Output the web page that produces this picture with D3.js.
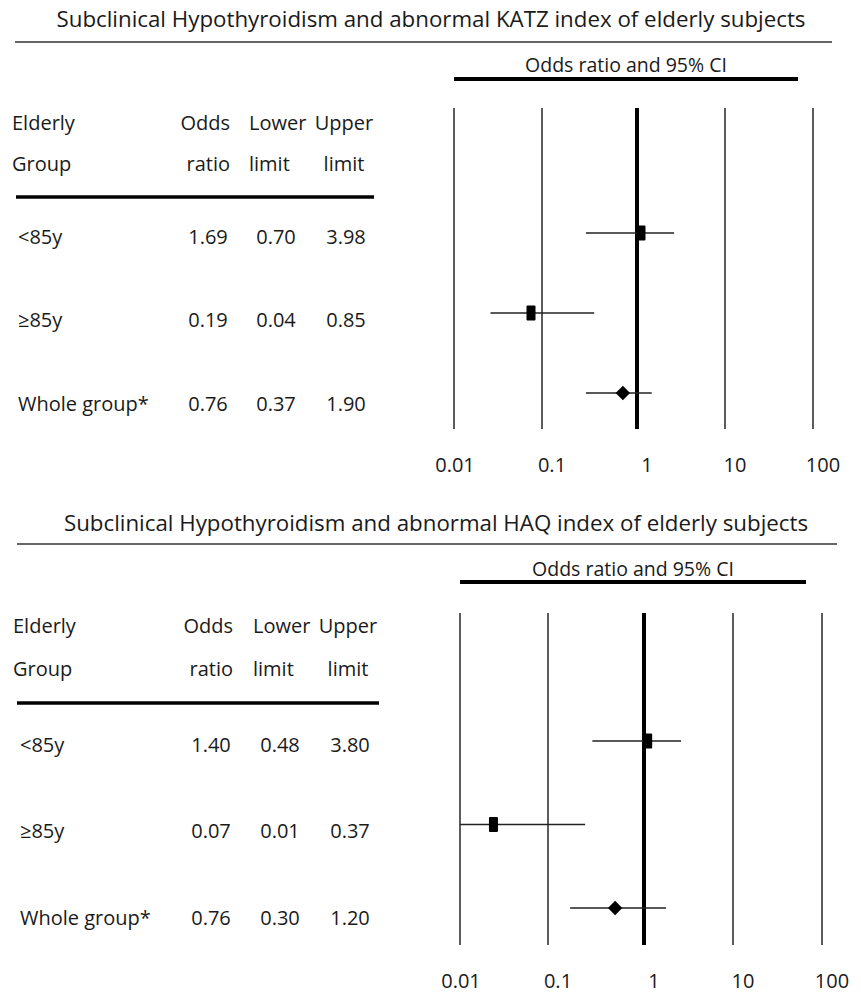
<!DOCTYPE html>
<html>
<head>
<meta charset="utf-8">
<script src="https://cdn.jsdelivr.net/npm/d3@7"></script>
<style>
  body { margin: 0; background: #fff; }
  text { font-family: "Open Sans", sans-serif; fill: #1a1a1a; }
</style>
</head>
<body>
<svg id="chart"></svg>
<script>
const groups = ["<85y", "\u226585y", "Whole group*"];
const ticks = [0.01, 0.1, 1, 10, 100];
const tickLabels = ["0.01", "0.1", "1", "10", "100"];

// KATZ panel: table values
const katzOR = [1.69, 0.19, 0.76];
const katzLower = [0.70, 0.04, 0.37];
const katzUpper = [3.98, 0.85, 1.90];
// KATZ panel: where marks sit on the plot
const katzPoint = [1.11, 0.075, 0.71];
const katzLo = [0.29, 0.026, 0.29];
const katzHi = [2.64, 0.354, 1.47];

// HAQ panel: table values
const haqOR = [1.40, 0.07, 0.76];
const haqLower = [0.48, 0.01, 0.30];
const haqUpper = [3.80, 0.37, 1.20];
// HAQ panel: where marks sit on the plot
const haqPoint = [1.10, 0.024, 0.50];
const haqLo = [0.29, 0.01, 0.17];
const haqHi = [2.61, 0.244, 1.77];

const width = 861;
const height = 992;

const svg = d3.select("#chart").attr("width", width).attr("height", height);

function drawPanel(cfg, or, lower, upper, point, lo, hi) {
  const g = svg.append("g");

  // title + rules
  g.append("text")
    .attr("x", cfg.titleX).attr("y", cfg.titleY)
    .attr("text-anchor", "middle").attr("dominant-baseline", "central")
    .style("font-size", "22.3px")
    .text(cfg.title);
  g.append("line")
    .attr("x1", cfg.ruleX[0]).attr("x2", cfg.ruleX[1])
    .attr("y1", cfg.ruleY).attr("y2", cfg.ruleY)
    .attr("stroke", "#333").attr("stroke-width", 1.5);

  const x = d3.scaleLog().domain(ticks).range(cfg.gridX);

  g.append("text")
    .attr("x", (cfg.gridX[0] + cfg.headLineEnd) / 2).attr("y", cfg.headY)
    .attr("text-anchor", "middle").attr("dominant-baseline", "central")
    .style("font-size", "19.5px")
    .text("Odds ratio and 95% CI");
  g.append("line")
    .attr("x1", cfg.gridX[0]).attr("x2", cfg.headLineEnd)
    .attr("y1", cfg.headLineY).attr("y2", cfg.headLineY)
    .attr("stroke", "#000").attr("stroke-width", 4);

  // table header
  const hdr = [
    { t: ["Elderly", "Group"], x: cfg.colX[0], anchor: "start" },
    { t: ["Odds", "ratio"], x: cfg.colX[1] + 22, anchor: "end" },
    { t: ["Lower", "limit"], x: cfg.colX[2] - 27, anchor: "start" },
    { t: ["Upper", "limit"], x: cfg.colX[3] - 2, anchor: "middle" }
  ];
  hdr.forEach((h) => {
    h.t.forEach((s, i) => {
      g.append("text")
        .attr("x", h.x).attr("y", cfg.hdrY[i])
        .attr("text-anchor", h.anchor).attr("dominant-baseline", "central")
        .style("font-size", "20px")
        .text(s);
    });
  });
  g.append("line")
    .attr("x1", cfg.tableLineX[0]).attr("x2", cfg.tableLineX[1])
    .attr("y1", cfg.tableLineY).attr("y2", cfg.tableLineY)
    .attr("stroke", "#000").attr("stroke-width", 3.5);

  const rowText = d3.scalePoint().domain(groups).range(cfg.rowTextY);
  const rowMark = d3.scalePoint().domain(groups).range(cfg.rowMarkY);

  groups.forEach((grp, i) => {
    const y = rowText(grp);
    g.append("text").attr("x", cfg.labelX).attr("y", y)
      .attr("dominant-baseline", "central").style("font-size", "20px").text(grp);
    [or[i], lower[i], upper[i]].forEach((v, j) => {
      g.append("text").attr("x", cfg.colX[j + 1]).attr("y", y)
        .attr("text-anchor", "middle").attr("dominant-baseline", "central")
        .style("font-size", "20px").text(v.toFixed(2));
    });
  });

  // gridlines
  g.selectAll(".grid")
    .data(ticks)
    .enter()
    .append("line")
    .attr("x1", (d) => x(d)).attr("x2", (d) => x(d))
    .attr("y1", cfg.gridY[0]).attr("y2", cfg.gridY[1])
    .attr("stroke", (d) => (d === 1 ? "#000" : "#333"))
    .attr("stroke-width", (d) => (d === 1 ? 4 : 1.6));

  g.selectAll(".tick-label")
    .data(ticks)
    .enter()
    .append("text")
    .attr("x", (d, i) => x(d) + (i === 0 ? 1 : 10))
    .attr("y", cfg.tickY)
    .attr("text-anchor", "middle").attr("dominant-baseline", "central")
    .style("font-size", "20px")
    .text((d, i) => tickLabels[i]);

  // confidence intervals
  groups.forEach((grp, i) => {
    const y = rowMark(grp);
    g.append("line")
      .attr("x1", x(lo[i])).attr("x2", x(hi[i]))
      .attr("y1", y).attr("y2", y)
      .attr("stroke", "#222").attr("stroke-width", 1.6);
    if (i < 2) {
      g.append("rect")
        .attr("x", x(point[i]) - 4.5).attr("y", y - 7.5)
        .attr("width", 9).attr("height", 15)
        .attr("rx", 1)
        .attr("fill", "#000");
    } else {
      g.append("path")
        .attr("d", d3.symbol(d3.symbolSquare, 104)())
        .attr("transform", `translate(${x(point[i])},${y}) rotate(45)`)
        .attr("fill", "#000");
    }
  });
}

drawPanel(
  {
    title: "Subclinical Hypothyroidism and abnormal KATZ index of elderly subjects",
    titleX: 431, titleY: 18,
    ruleX: [15, 832], ruleY: 42,
    headY: 64, headLineY: 79, headLineEnd: 798,
    hdrY: [122, 163],
    colX: [12, 208, 276, 346],
    tableLineX: [16, 374], tableLineY: 197,
    labelX: 18,
    rowTextY: [236, 403],
    rowMarkY: [233, 393],
    gridX: [454, 542, 637, 725, 813],
    gridY: [108, 429],
    tickY: 464
  },
  katzOR, katzLower, katzUpper, katzPoint, katzLo, katzHi
);

drawPanel(
  {
    title: "Subclinical Hypothyroidism and abnormal HAQ index of elderly subjects",
    titleX: 436, titleY: 522,
    ruleX: [17, 837], ruleY: 544,
    headY: 568, headLineY: 582, headLineEnd: 806,
    hdrY: [625, 668],
    colX: [13, 211, 280, 350],
    tableLineX: [17, 379], tableLineY: 703,
    labelX: 20,
    rowTextY: [744, 917],
    rowMarkY: [741, 908],
    gridX: [460, 548, 644, 733, 822],
    gridY: [613, 945],
    tickY: 980
  },
  haqOR, haqLower, haqUpper, haqPoint, haqLo, haqHi
);
</script>
</body>
</html>
